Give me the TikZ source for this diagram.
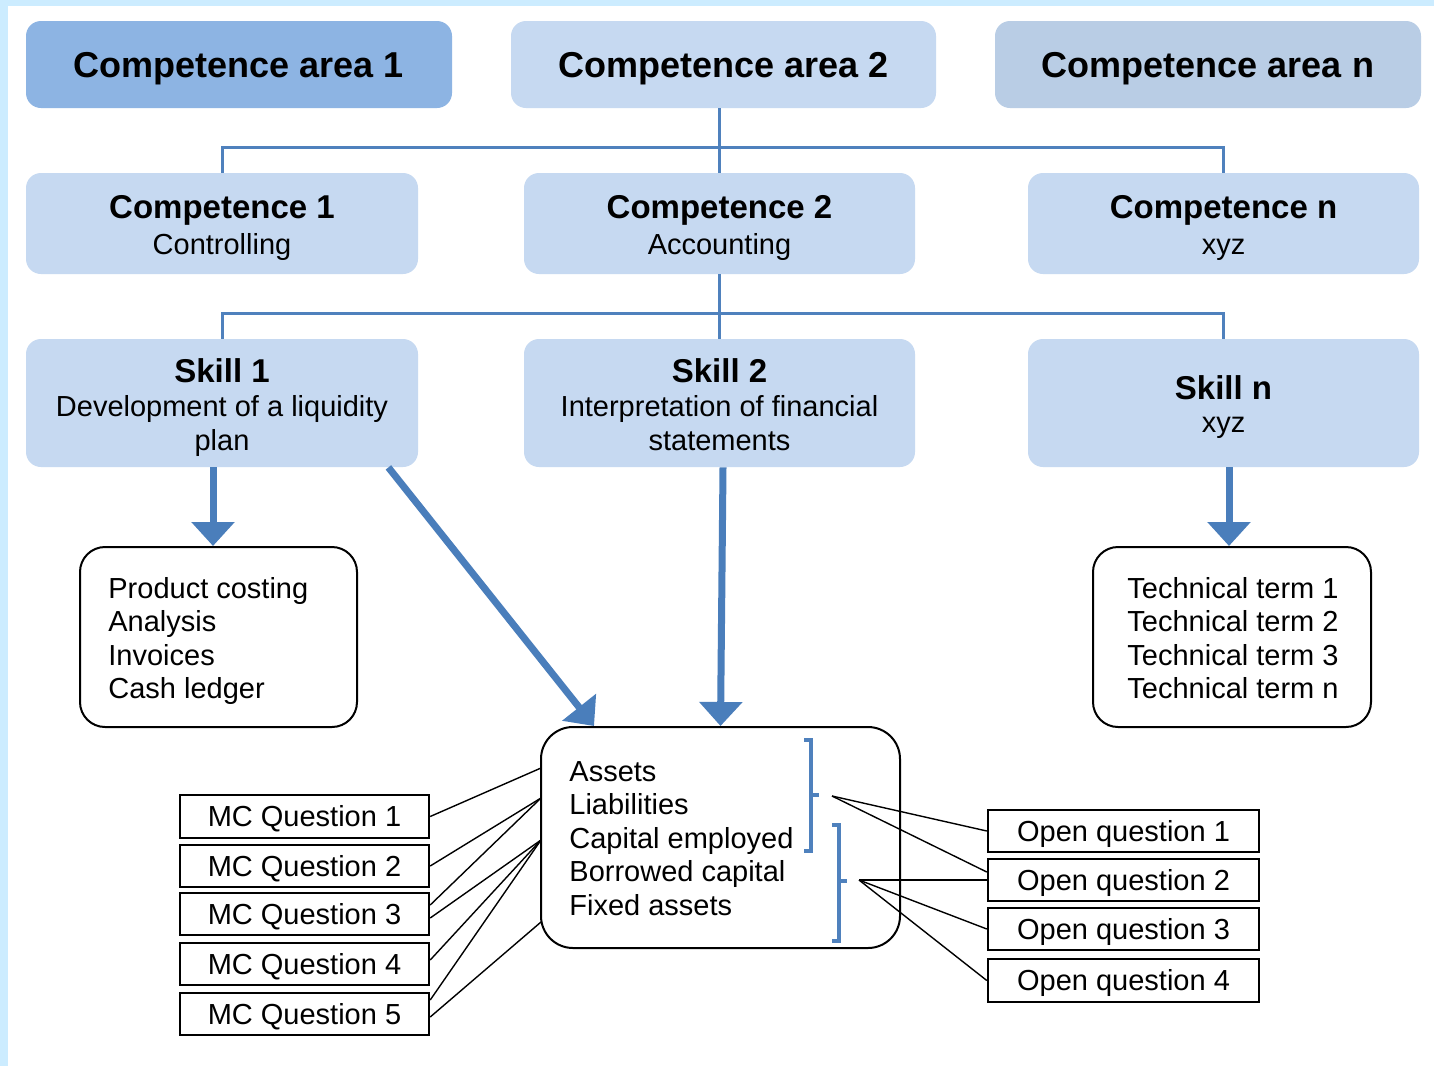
\documentclass[tikz,border=0pt]{standalone}
\usepackage{fontspec}
\setmainfont{Liberation Sans}
\usetikzlibrary{arrows.meta}
\definecolor{bandblue}{RGB}{204,236,255}
\definecolor{areaone}{RGB}{141,180,227}
\definecolor{boxblue}{RGB}{198,217,241}
\definecolor{areantwo}{RGB}{185,205,229}
\definecolor{linkblue}{RGB}{79,129,189}
\definecolor{arrowblue}{RGB}{74,126,187}
\newcommand\cxArea{\bfseries\fontsize{18}{21}\selectfont}
\newcommand\cxHead{\bfseries\fontsize{16.5}{19}\selectfont}
\newcommand\cxBody{\fontsize{14.5}{16.75}\selectfont}
\begin{document}
\begin{tikzpicture}[x=0.5pt,y=-0.5pt,
  bluebox/.style={rectangle, rounded corners=7.5pt, inner sep=0pt, draw=none},
  areabox/.style={bluebox, minimum width=213pt, minimum height=43.5pt, font=\cxArea, text height=12.9pt, text depth=0pt},
  compbox/.style={bluebox, fill=boxblue, minimum width=196pt, minimum height=50.5pt},
  skillbox/.style={bluebox, fill=boxblue, minimum width=196pt, minimum height=64pt},
  termbox/.style={rectangle, draw=black, line width=1pt, fill=white, inner sep=0pt},
  qbox/.style={rectangle, draw=black, line width=1.2pt, fill=white, inner sep=0pt, minimum width=124.5pt, minimum height=21.25pt, font=\cxBody, text height=10.4pt, text depth=0pt},
  headtxt/.style={inner sep=0pt, anchor=base, font=\cxHead},
  bodytxt/.style={inner sep=0pt, anchor=base, font=\cxBody},
  listtxt/.style={inner sep=0pt, anchor=base west, font=\cxBody},
  conn/.style={draw=linkblue, line width=1.5pt},
  bigarrow/.style={draw=arrowblue, line width=3.5pt, -{Triangle[width=21pt,length=12pt]}},
  link/.style={draw=black, line width=0.7pt},
  brk/.style={draw=linkblue, line width=2pt}
]
\useasboundingbox (0,0) rectangle (1434,1066);
\fill[bandblue] (0,0) rectangle (1434,1066);
\fill[white] (8,6) rectangle (1434,1066);

% competence areas
\node[areabox, fill=areaone] (area1) at (239,64.5) {Competence area 1};
\node[areabox, fill=boxblue, minimum width=212.5pt] (area2) at (723.5,64.5) {Competence area 2};
\node[areabox, fill=areantwo] (arean) at (1208,64.5) {Competence area n};

% competences
\node[compbox] (comp1) at (222,223.5) {};
\node[compbox, minimum width=195.5pt] (comp2) at (719.5,223.5) {};
\node[compbox, minimum width=195.5pt] (compn) at (1223.5,223.5) {};
\node[headtxt] (comp1h) at (222,218) {Competence 1};
\node[bodytxt] (comp1s) at (222,254) {Controlling};
\node[headtxt] (comp2h) at (719.5,218) {Competence 2};
\node[bodytxt] (comp2s) at (719.5,254) {Accounting};
\node[headtxt] (comp3h) at (1223.5,218) {Competence n};
\node[bodytxt] (comp3s) at (1223.5,254) {xyz};

% skills
\node[skillbox] (skill1) at (222,403) {};
\node[skillbox, minimum width=195.5pt] (skill2) at (719.5,403) {};
\node[skillbox, minimum width=195.5pt] (skilln) at (1223.5,403) {};
\node[headtxt] (skill1h) at (222,382) {Skill 1};
\node[bodytxt] (skill1a) at (222,416) {Development of a liquidity};
\node[bodytxt] (skill1b) at (222,450) {plan};
\node[headtxt] (skill2h) at (719.5,382) {Skill 2};
\node[bodytxt] (skill2a) at (719.5,416) {Interpretation of financial};
\node[bodytxt] (skill2b) at (719.5,450) {statements};
\node[headtxt] (skillnh) at (1223.5,399) {Skill n};
\node[bodytxt] (skillna) at (1223.5,432) {xyz};

% tree connectors
\draw[conn] (comp2.north |- area2.south) -- (comp2.north);
\draw[conn] (comp1.north) -- ++(0,-25) -| (compn.north);
\draw[conn] (comp2.south) -- (skill2.north);
\draw[conn] (skill1.north) -- ++(0,-25) -| (skilln.north);

% term boxes
\node[termbox, rounded corners=12.5pt, minimum width=138.5pt, minimum height=90pt] (prod) at (218.5,637) {};
\node[termbox, rounded corners=12.5pt, minimum width=139pt, minimum height=90pt] (tech) at (1232,637) {};
\node[termbox, rounded corners=16pt, minimum width=179.5pt, minimum height=110.5pt] (cent) at (720.5,837.5) {};

\foreach \t [count=\i from 0] in {Product costing,Analysis,Invoices,Cash ledger}
  \node[listtxt] (prodl\i) at (108,{598+33.5*\i}) {\t};
\foreach \t [count=\i from 0] in {Technical term 1,Technical term 2,Technical term 3,Technical term n}
  \node[listtxt] (techl\i) at (1127,{598+33.5*\i}) {\t};
\foreach \t [count=\i from 0] in {Assets,Liabilities,Capital employed,Borrowed capital,Fixed assets}
  \node[listtxt] (centl\i) at (569,{781+33.5*\i}) {\t};

% big arrows
\draw[bigarrow] ([xshift=-4.5pt]skill1.south) -- ([xshift=-2.75pt]prod.north);
\draw[bigarrow] ([xshift=-15pt]skill1.south east) -- ([xshift=27pt]cent.north west);
\draw[bigarrow] ([xshift=1.75pt]skill2.south) -- (cent.north);
\draw[bigarrow] ([xshift=2.75pt]skilln.south) -- ([xshift=-1.5pt]tech.north);

% brackets
\draw[brk] (804,740) -- (811,740) -- (811,851) -- (804,851);
\draw[brk] (811,795) -- (819,795);
\draw[brk] (832,825) -- (839,825) -- (839,941) -- (832,941);
\draw[brk] (839,881) -- (847,881);
\coordinate (b1) at (832,796);
\coordinate (b2) at (859,880);

% MC questions
\node[qbox] (mc1) at (304.5,816.5) {MC Question 1};
\node[qbox] (mc2) at (304.5,866) {MC Question 2};
\node[qbox] (mc3) at (304.5,914) {MC Question 3};
\node[qbox] (mc4) at (304.5,964) {MC Question 4};
\node[qbox] (mc5) at (304.5,1014) {MC Question 5};

% open questions
\node[qbox, minimum width=135.5pt] (oq1) at (1123.5,831) {Open question 1};
\node[qbox, minimum width=135.5pt] (oq2) at (1123.5,880) {Open question 2};
\node[qbox, minimum width=135.5pt] (oq3) at (1123.5,929) {Open question 3};
\node[qbox, minimum width=135.5pt] (oq4) at (1123.5,980.5) {Open question 4};

% attachment points on the central box
\coordinate (ca) at (541,768);
\coordinate (cb) at (541,798);
\coordinate (cc) at (541,840);
\coordinate (cd) at (541,922);

\draw[link] (mc1.east) -- (ca);
\draw[link] (mc2.east) -- (cb);
\draw[link] ([yshift=4.5pt]mc3.east) -- (cb);
\draw[link] ([yshift=-2pt]mc3.east) -- (cc);
\draw[link] ([yshift=2pt]mc4.east) -- (cc);
\draw[link] ([yshift=7pt]mc5.east) -- (cc);
\draw[link] ([yshift=-1.5pt]mc5.east) -- (cd);

\draw[link] (b1) -- (oq1.west);
\draw[link] (b1) -- ([yshift=4pt]oq2.west);
\draw[link] (b2) -- (oq2.west);
\draw[link] (b2) -- (oq3.west);
\draw[link] (b2) -- (oq4.west);
\end{tikzpicture}
\end{document}
